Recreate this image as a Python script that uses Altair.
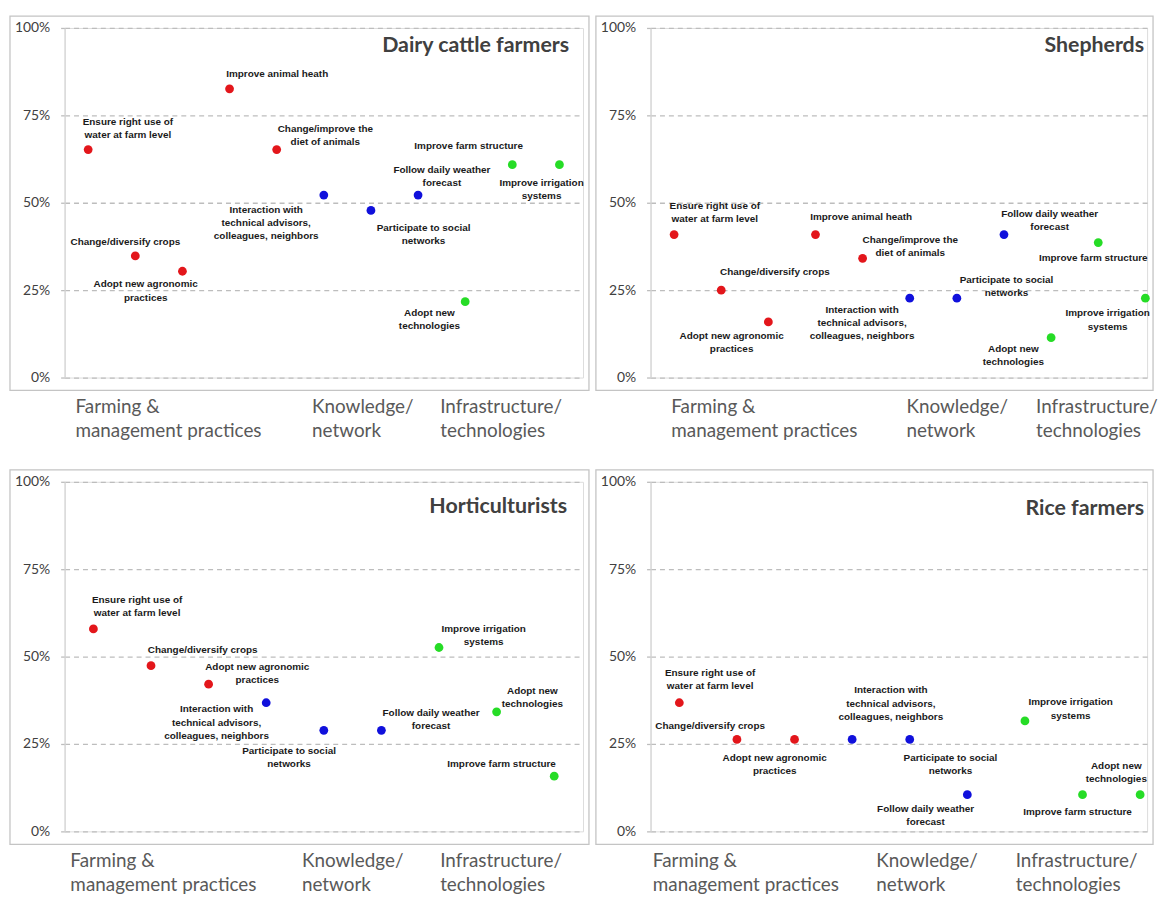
import altair as alt
import pandas as pd

# ---------------- item names ----------------
ENSURE = "Ensure right use of\nwater at farm level"
CROPS = "Change/diversify crops"
AGRO = "Adopt new agronomic\npractices"
ANIMAL = "Improve animal heath"
DIET = "Change/improve the\ndiet of animals"
INTERACT = "Interaction with\ntechnical advisors,\ncolleagues, neighbors"
SOCIAL = "Participate to social\nnetworks"
WEATHER = "Follow daily weather\nforecast"
NEWTECH = "Adopt new\ntechnologies"
STRUCT = "Improve farm structure"
IRRIG = "Improve irrigation\nsystems"

GROUP_NAMES = ["Farming &\nmanagement practices", "Knowledge/\nnetwork", "Infrastructure/\ntechnologies"]
GROUP_OF = {ENSURE: 0, CROPS: 0, AGRO: 0, ANIMAL: 0, DIET: 0,
            INTERACT: 1, SOCIAL: 1, WEATHER: 1,
            NEWTECH: 2, STRUCT: 2, IRRIG: 2}
GROUP_COLORS = ["#e3161b", "#1010dc", "#26dc26"]

TITLES = ["Dairy cattle farmers", "Shepherds", "Horticulturists", "Rice farmers"]

# ---------------- data (% of respondents) ----------------
DAIRY_ITEMS = [ENSURE, CROPS, AGRO, ANIMAL, DIET, INTERACT, SOCIAL, WEATHER, NEWTECH, STRUCT, IRRIG]
DAIRY_VALUES = [65.2, 34.8, 30.4, 82.6, 65.2, 52.2, 47.8, 52.2, 21.7, 60.9, 60.9]

SHEP_ITEMS = [ENSURE, CROPS, AGRO, ANIMAL, DIET, INTERACT, SOCIAL, WEATHER, NEWTECH, STRUCT, IRRIG]
SHEP_VALUES = [40.9, 25.0, 15.9, 40.9, 34.1, 22.7, 22.7, 40.9, 11.4, 38.6, 22.7]

HORT_ITEMS = [ENSURE, CROPS, AGRO, INTERACT, SOCIAL, WEATHER, IRRIG, NEWTECH, STRUCT]
HORT_VALUES = [57.9, 47.4, 42.1, 36.8, 28.9, 28.9, 52.6, 34.2, 15.8]

RICE_ITEMS = [ENSURE, CROPS, AGRO, INTERACT, SOCIAL, WEATHER, IRRIG, STRUCT, NEWTECH]
RICE_VALUES = [36.8, 26.3, 26.3, 26.3, 26.3, 10.5, 31.6, 10.5, 10.5]

# ---------------- label placement (pixel offsets of label-block centre from each point) ----------------
DAIRY_DX = [40, -10, -37, 48, 49, -58, 53, 24, -36, -44, -18]
DAIRY_DY = [-21, -14, 20, -15, -14, 28, 24, -19, 18, -19, 25]
SHEP_DX = [41, 54, -37, 46, 48, -48, 50, 46, -38, -5, -38]
SHEP_DY = [-22, -18, 21, -18, -12, 25, -12, -14, 18, 16, 22]
HORT_DX = [44, 52, 49, -50, -35, 50, 45, 36, -53]
HORT_DY = [-23, -16, -11, 20, 27, -11, -12, -14, -12]
RICE_DX = [31, -27, -20, 39, 41, -42, 46, -5, -24]
RICE_DY = [-23, -14, 25, -36, 25, 21, -12, 17, -22]

# group caption anchors (in item-position units)
DAIRY_GX = [0.73, 5.75, 8.47]
SHEP_GX = [0.94, 5.93, 8.68]
HORT_GX = [0.60, 4.62, 7.02]
RICE_GX = [0.54, 4.42, 6.84]

# ---------------- layout / style ----------------
W_LEFT = 522
W_RIGHT = 500
H = 352
LABEL_FONT = "Liberation Sans Narrow, Arial Narrow, Liberation Sans, sans-serif"
LABEL_SIZE = 10
LABEL_LH = 13.3
GROUP_LH = 24

Y_AXIS = alt.Axis(
    values=[0, 0.25, 0.5, 0.75, 1], format=".0%", title=None,
    grid=True, gridDash=[5, 4], gridColor="#bdbdbd", gridWidth=1.3,
    domain=True, domainColor="#d6d6d6", domainWidth=1.2,
    ticks=True, tickSize=4, tickColor="#bdbdbd", tickWidth=1.3,
    labelFont="Lato", labelFontSize=14, labelColor="#404040",
    labelPadding=11,
)


def panel(title, items, values, dx, dy, gx, width, spacing, title_inset, title_y):
    n = len(items)
    xmax = 0.5 + width / spacing
    df = pd.DataFrame({
        "pos": list(range(1, n + 1)),
        "value": [v / 100 for v in values],
        "item": items,
        "group": [GROUP_NAMES[GROUP_OF[i]] for i in items],
        "dx": dx,
        "dy": dy,
    })
    nlines = df["item"].str.count("\n")
    df["lx"] = df["pos"] + df["dx"] / spacing
    # vega draws the first line at y, so lift the block by half its extra lines
    df["ly"] = df["value"] - (df["dy"] - nlines * LABEL_LH / 2) / H

    xs = alt.Scale(domain=[0.5, xmax], nice=False, zero=False)
    ys = alt.Scale(domain=[0, 1], nice=False, zero=True)

    frame = alt.Chart(pd.DataFrame({"k": [0]})).mark_rect(
        fill="transparent", stroke="#c4c4c4", strokeWidth=1.3
    ).encode(
        x=alt.value(-55), x2=alt.value(width + 6),
        y=alt.value(-12), y2=alt.value(H + 13),
    )

    pts = alt.Chart(df).mark_circle(size=78, opacity=1).encode(
        x=alt.X("pos:Q", scale=xs, axis=None),
        y=alt.Y("value:Q", scale=ys, axis=Y_AXIS),
        color=alt.Color("group:N", scale=alt.Scale(domain=GROUP_NAMES, range=GROUP_COLORS), legend=None),
    )

    labels = alt.Chart(df).mark_text(
        font=LABEL_FONT, fontSize=LABEL_SIZE, fontWeight="bold", color="#1a1a1a",
        lineBreak="\n", lineHeight=LABEL_LH, align="center", baseline="middle",
    ).encode(
        x=alt.X("lx:Q", scale=xs, axis=None),
        y=alt.Y("ly:Q", scale=ys, axis=Y_AXIS),
        text="item:N",
    )

    ttl = alt.Chart(pd.DataFrame({"t": [title]})).mark_text(
        font="Lato", fontSize=21.5, fontWeight="bold", color="#404040",
        align="right", baseline="middle",
    ).encode(x=alt.value(width - title_inset), y=alt.value(title_y), text="t:N")

    gdf = pd.DataFrame({"gx": gx, "name": GROUP_NAMES})
    grp = alt.Chart(gdf).mark_text(
        font="Lato", fontSize=19, color="#595959", align="left", baseline="middle",
        lineBreak="\n", lineHeight=GROUP_LH,
    ).encode(
        x=alt.X("gx:Q", scale=xs, axis=None),
        y=alt.value(H + 30),
        text="name:N",
    )

    return alt.layer(frame, pts, labels, ttl, grp).properties(width=width, height=H)


SP_TOP = W_LEFT / 11
SP_BOT = W_LEFT / 9

p1 = panel(TITLES[0], DAIRY_ITEMS, DAIRY_VALUES, DAIRY_DX, DAIRY_DY, DAIRY_GX, W_LEFT, SP_TOP, 14, 18)
p2 = panel(TITLES[1], SHEP_ITEMS, SHEP_VALUES, SHEP_DX, SHEP_DY, SHEP_GX, W_RIGHT, SP_TOP, 3, 18)
p3 = panel(TITLES[2], HORT_ITEMS, HORT_VALUES, HORT_DX, HORT_DY, HORT_GX, W_LEFT, SP_BOT, 16, 25)
p4 = panel(TITLES[3], RICE_ITEMS, RICE_VALUES, RICE_DX, RICE_DY, RICE_GX, W_RIGHT, SP_BOT, 3, 27)

chart = alt.vconcat(
    alt.hconcat(p1, p2, spacing=3),
    alt.hconcat(p3, p4, spacing=3),
    spacing=26,
).properties(
    padding={"left": 0, "top": 3, "right": 0, "bottom": 0},
    background="white",
).configure_view(stroke="transparent", strokeWidth=0).configure(font="Lato")

chart.save("out.html", embed_options={"renderer": "svg", "actions": False})
